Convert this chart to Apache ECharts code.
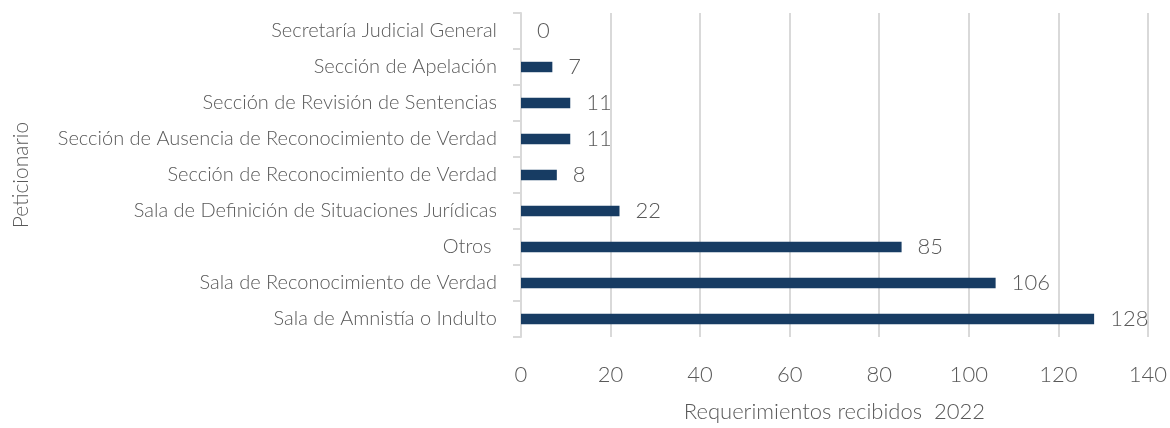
<!DOCTYPE html>
<html>
<head>
<meta charset="utf-8">
<script src="https://cdn.jsdelivr.net/npm/echarts@6/dist/echarts.min.js"></script>
<style>
  html, body { margin: 0; padding: 0; background: #fff; }
  #container { width: 1170px; height: 428px; }
</style>
</head>
<body>
<div id="container"></div>
<script>
// categories from bottom to top, as ECharts draws them
var categories = [
    'Sala de Amnistía o Indulto',
    'Sala de Reconocimiento de Verdad',
    'Otros ',
    'Sala de Definición de Situaciones Jurídicas',
    'Sección de Reconocimiento de Verdad',
    'Sección de Ausencia de Reconocimiento de Verdad',
    'Sección de Revisión de Sentencias',
    'Sección de Apelación',
    'Secretaría Judicial General'
];
var values = [128, 106, 85, 22, 8, 11, 11, 7, 0];
var xTicks = { min: 0, max: 140, interval: 20 };

var font = 'Lato';
var grey = '#595959';

var myChart = echarts.init(document.getElementById('container'));
var option = {
    animation: false,
    grid: { left: 521, right: 18, top: 13, bottom: 85 },
    xAxis: {
        type: 'value',
        min: xTicks.min,
        max: xTicks.max,
        interval: xTicks.interval,
        name: 'Requerimientos recibidos  2022',
        nameLocation: 'middle',
        nameGap: 64,
        nameTextStyle: { color: grey, fontFamily: font, fontWeight: 300, fontSize: 22 },
        axisLine: { show: false },
        axisTick: { show: false },
        axisLabel: { color: grey, fontFamily: font, fontWeight: 300, fontSize: 22, margin: 27 },
        splitLine: { lineStyle: { color: '#d9d9d9', width: 2 } }
    },
    yAxis: {
        type: 'category',
        data: categories,
        name: 'Peticionario',
        nameLocation: 'middle',
        nameRotate: 90,
        nameGap: 489,
        nameTextStyle: { color: grey, fontFamily: font, fontWeight: 300, fontSize: 21 },
        axisLine: { lineStyle: { color: '#d9d9d9', width: 2 } },
        axisTick: { show: true, length: 8, lineStyle: { color: '#d9d9d9', width: 2 } },
        axisLabel: { color: grey, fontFamily: font, fontWeight: 300, fontSize: 20, margin: 24 }
    },
    series: [{
        type: 'bar',
        data: values,
        barWidth: '29%',
        itemStyle: { color: '#173c63' },
        label: {
            show: true,
            position: 'right',
            distance: 16,
            color: grey,
            fontFamily: font,
            fontWeight: 300,
            fontSize: 22
        }
    }]
};
myChart.setOption(option);
</script>
</body>
</html>
